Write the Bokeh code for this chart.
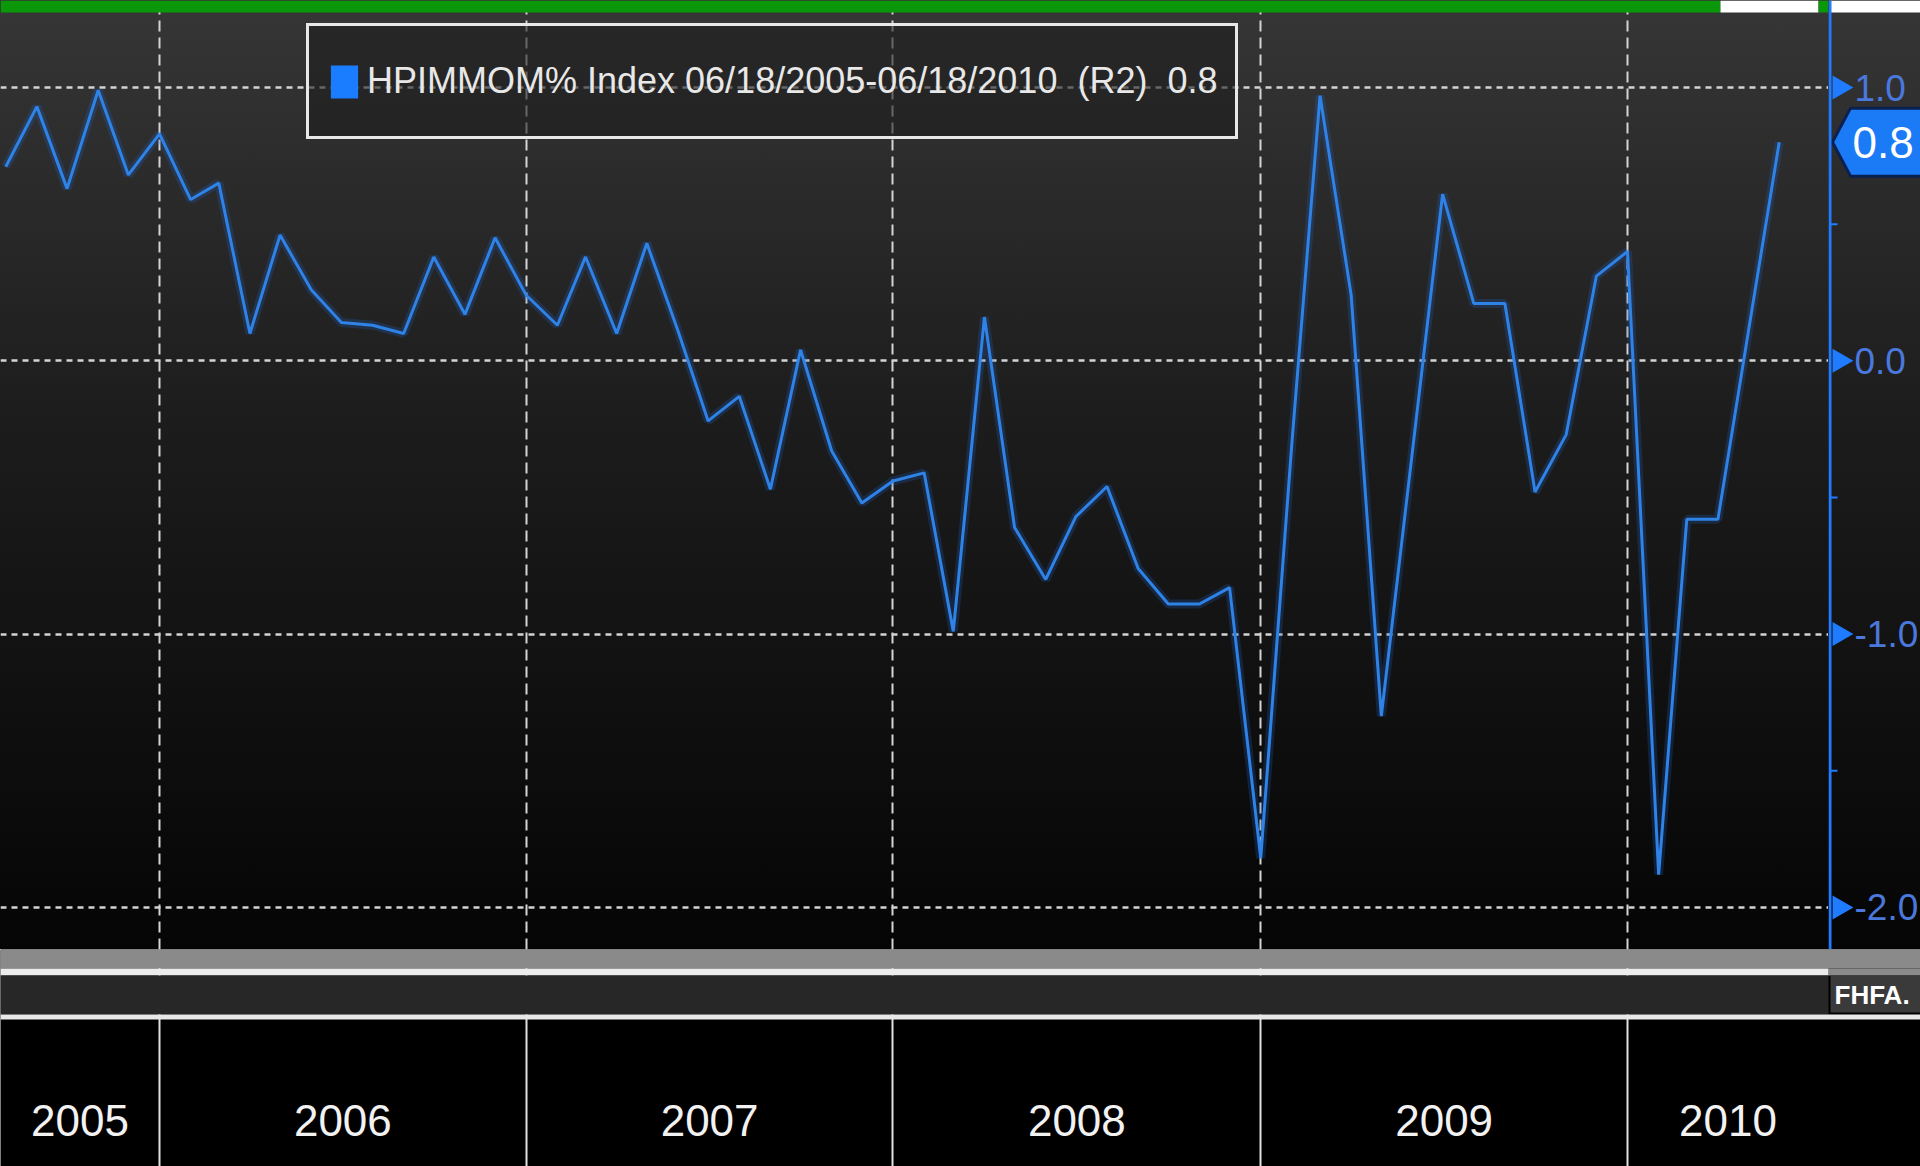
import math
import datetime as dt
from bokeh.plotting import figure
from bokeh.layouts import column, row
from bokeh.models import Range1d, FixedTicker, Legend, LegendItem, Span
from bokeh.core.properties import value
from bokeh.embed import file_html
from bokeh.resources import INLINE

# ---------------- data ----------------
months = ["2005-08", "2005-09", "2005-10", "2005-11", "2005-12",
          "2006-01", "2006-02", "2006-03", "2006-04", "2006-05", "2006-06",
          "2006-07", "2006-08", "2006-09", "2006-10", "2006-11", "2006-12",
          "2007-01", "2007-02", "2007-03", "2007-04", "2007-05", "2007-06",
          "2007-07", "2007-08", "2007-09", "2007-10", "2007-11", "2007-12",
          "2008-01", "2008-02", "2008-03", "2008-04", "2008-05", "2008-06",
          "2008-07", "2008-08", "2008-09", "2008-10", "2008-11", "2008-12",
          "2009-01", "2009-02", "2009-03", "2009-04", "2009-05", "2009-06",
          "2009-07", "2009-08", "2009-09", "2009-10", "2009-11", "2009-12",
          "2010-01", "2010-02", "2010-03", "2010-04", "2010-05", "2010-06"]
hpi_mom = [0.71, 0.93, 0.63, 0.99, 0.68,
           0.83, 0.59, 0.65, 0.10, 0.46, 0.26,
           0.14, 0.13, 0.10, 0.38, 0.17, 0.45,
           0.24, 0.13, 0.38, 0.10, 0.43, 0.11,
           -0.22, -0.13, -0.47, 0.04, -0.33, -0.52,
           -0.44, -0.41, -0.99, 0.16, -0.61, -0.80,
           -0.57, -0.46, -0.76, -0.89, -0.89, -0.83,
           -1.82, -0.30, 0.97, 0.24, -1.30, -0.33,
           0.61, 0.21, 0.21, -0.48, -0.27, 0.31,
           0.40, -1.88, -0.58, -0.58, 0.10, 0.80]
series_label = "HPIMMOM% Index 06/18/2005-06/18/2010  (R2)  0.8"
last_value = 0.8
y_ticks = [-2.0, -1.0, 0.0, 1.0]
y_minor_ticks = [-1.5, -0.5, 0.5]
year_starts = ["2006-01-01", "2007-01-01", "2008-01-01", "2009-01-01", "2010-01-01"]
year_labels = ["2005", "2006", "2007", "2008", "2009", "2010"]
source_text = "FHFA."

# ---------------- geometry helpers ----------------
FONT = "Liberation Sans"
DAY_MS = 86400000.0
PX_PER_DAY = 367.0 / 365.25
UNIT = 273.3  # px per 1.0 on the value axis
MAIN_W = 1828
PANEL_W = 92
MAIN_H = 949
BOTTOM_H = 217
BG_CSS = {"background": "linear-gradient(180deg, #363636 0%, #1c1c1c 45%, #050505 100%)"}


def ms(d):
    return (d - dt.datetime(1970, 1, 1)).total_seconds() * 1000.0


JAN06 = ms(dt.datetime(2006, 1, 1))
X0 = JAN06 - 159 / PX_PER_DAY * DAY_MS


def xref(px):
    return X0 + px / PX_PER_DAY * DAY_MS


def yref(py):
    return 1.0 - (py - 87) / UNIT


X1 = xref(MAIN_W)
Y_TOP = yref(0)
Y_BOT = yref(MAIN_H)

xs = [ms(dt.datetime(int(m[:4]), int(m[5:7]), 1)) for m in months]
year_ms = [ms(dt.datetime.strptime(s, "%Y-%m-%d")) for s in year_starts]

# ---------------- main chart ----------------
p = figure(width=MAIN_W, height=MAIN_H, x_axis_location=None, y_axis_location=None,
           x_range=Range1d(X0, X1), y_range=Range1d(Y_BOT, Y_TOP),
           output_backend="svg", toolbar_location=None, min_border=0,
           background_fill_alpha=0, border_fill_alpha=0, outline_line_color=None)
p.frame_align = False
p.styles = BG_CSS

p.xgrid.ticker = FixedTicker(ticks=year_ms)
p.xgrid.grid_line_color = "#d4d4d4"
p.xgrid.grid_line_width = 2
p.xgrid.grid_line_dash = "11 6"
p.ygrid.ticker = FixedTicker(ticks=y_ticks)
p.ygrid.grid_line_color = "#d4d4d4"
p.ygrid.grid_line_width = 2.5
p.ygrid.grid_line_dash = "6 5"

# top green banner (slide decoration)
p.quad(left=[X0, xref(1720), xref(1818)], right=[xref(1720), xref(1818), X1],
       top=[Y_TOP] * 3, bottom=[yref(12)] * 3,
       fill_color=["#0a980a", "#ffffff", "#0a980a"], line_color=None)

# series
p.line(xs, hpi_mom, line_color="#1c5fbf", line_width=9, line_alpha=0.25)
p.line(xs, hpi_mom, line_color="#2f82e6", line_width=3)

# legend swatch (zero-size rects on the data, only used for the legend's square)
r_leg = p.rect(x=xs, y=hpi_mom, width=0, height=0, fill_color="#1a7cff", line_color=None)
legend = Legend(items=[LegendItem(label=series_label, renderers=[r_leg])],
                location=(306, 810), orientation="vertical",
                border_line_color="#e8e8e8", border_line_width=3, border_line_alpha=1.0,
                background_fill_color="#1e1e1e", background_fill_alpha=0.6,
                label_text_color="#e8e8e8", label_text_font=FONT,
                label_text_font_size="36px", glyph_width=34, glyph_height=41,
                label_height=74, label_standoff=6, padding=18, margin=0, spacing=0)
p.add_layout(legend)

# ---------------- right value axis panel ----------------
a = figure(width=PANEL_W, height=MAIN_H, x_axis_location=None, y_axis_location=None,
           x_range=Range1d(0, PANEL_W), y_range=p.y_range,
           output_backend="svg", toolbar_location=None, min_border=0,
           background_fill_alpha=0, border_fill_alpha=0, outline_line_color=None)
a.frame_align = False
a.styles = BG_CSS
a.xgrid.visible = False
a.ygrid.visible = False

a.quad(left=[0, 1], right=[1, PANEL_W], top=[Y_TOP] * 2, bottom=[yref(12)] * 2,
       fill_color=["#0a980a", "#ffffff"], line_color=None)
a.add_layout(Span(location=1.5, dimension="height", line_color="#1f7bff", line_width=3))
a.segment(x0=[1.5] * len(y_minor_ticks), x1=[9] * len(y_minor_ticks),
          y0=y_minor_ticks, y1=y_minor_ticks, line_color="#1f7bff", line_width=2)
a.scatter(x=[11] * len(y_ticks), y=y_ticks, marker="triangle", size=24,
          angle=-math.pi / 2, fill_color="#1f7bff", line_color=None)
a.text(x=[26] * len(y_ticks), y=y_ticks, text=["%.1f" % v for v in y_ticks],
       text_baseline="middle", text_align="left", text_font=value(FONT),
       text_font_size="37px", text_color="#4a78dc")

# last value tag
h = 34 / UNIT
a.patch(x=[4, 22, PANEL_W + 2, PANEL_W + 2, 22],
        y=[last_value, last_value + h, last_value + h, last_value - h, last_value - h],
        fill_color="#1b7af5", line_color="#0a2050", line_width=3)
a.text(x=[24], y=[last_value], text=["%.1f" % last_value], text_baseline="middle",
       text_align="left", text_font=value(FONT), text_font_size="44px",
       text_color="#ffffff")

# ---------------- bottom date band ----------------
def by(py):
    return MAIN_H + BOTTOM_H - py


b = figure(width=MAIN_W + PANEL_W, height=BOTTOM_H,
           x_range=Range1d(X0, xref(MAIN_W + PANEL_W)), y_range=Range1d(0, BOTTOM_H),
           output_backend="svg", toolbar_location=None, min_border=0,
           x_axis_location=None, y_axis_location=None,
           background_fill_color="#000000", border_fill_color="#000000",
           outline_line_color=None)
b.frame_align = False
b.xgrid.ticker = FixedTicker(ticks=year_ms)
b.xgrid.grid_line_color = "#e0e0e0"
b.xgrid.grid_line_width = 2
b.ygrid.visible = False

XR = xref(MAIN_W)
XE = xref(MAIN_W + PANEL_W)
band_left = [X0, XR, X0, X0, xref(1830), X0]
band_right = [XE, XE, XR, XR, XE, XE]
band_top = [by(949), by(968), by(968), by(975), by(975), by(1014)]
band_bottom = [by(968), by(975), by(975), by(1014), by(1012), by(1019)]
band_color = ["#8a8a8a", "#8a8a8a", "#ececec", "#272727", "#3a3a3a", "#e8e8e8"]
b.quad(left=band_left, right=band_right, top=band_top, bottom=band_bottom,
       fill_color=band_color, line_color=None)

bounds = [X0] + year_ms + [XR]
mids = [(bounds[i] + bounds[i + 1]) / 2 for i in range(len(year_labels))]
b.text(x=mids, y=[by(1120)] * len(mids), text=year_labels, text_align="center",
       text_baseline="middle", text_font=value(FONT), text_font_size="44px",
       text_color="#f2f2f2")
b.text(x=[xref(1834)], y=[by(994)], text=[source_text], text_align="left",
       text_baseline="middle", text_font=value(FONT), text_font_size="26px",
       text_font_style="bold", text_color="#ffffff")

layout = column(row(p, a, spacing=0), b, spacing=0)
open("out.html", "w").write(file_html(layout, INLINE, title="HPIMMOM% Index"))
